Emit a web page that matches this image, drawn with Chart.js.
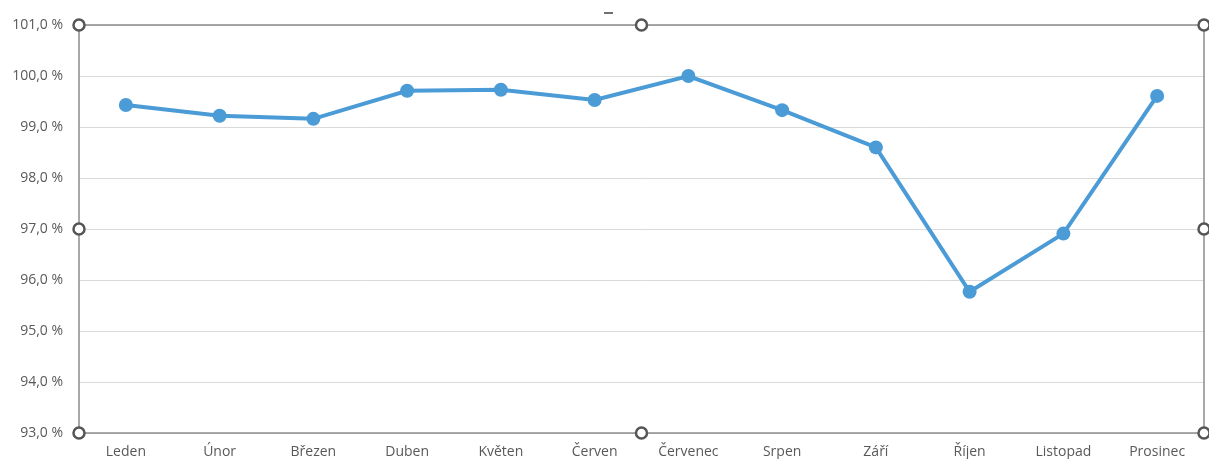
<!DOCTYPE html>
<html>
<head>
<meta charset="utf-8">
<script src="https://cdn.jsdelivr.net/npm/chart.js@4/dist/chart.umd.min.js"></script>
<style>
  html, body { margin: 0; padding: 0; background: #ffffff; }
  #wrap { width: 1209px; height: 459px; position: relative; }
</style>
</head>
<body>
<div id="wrap"><canvas id="c" width="1209" height="459"></canvas></div>
<script>
const categories = ['Leden', 'Únor', 'Březen', 'Duben', 'Květen', 'Červen', 'Červenec', 'Srpen', 'Září', 'Říjen', 'Listopad', 'Prosinec'];
const values = [99.43, 99.22, 99.16, 99.71, 99.73, 99.53, 100.0, 99.33, 98.6, 95.77, 96.91, 99.61];
const yMin = 93;
const yMax = 101;
const yStep = 1;

const lineColor = '#4a9bd6';
const textColor = '#595959';
const fontFamily = '"Open Sans", Roboto, sans-serif';

const framePlugin = {
  id: 'frame',
  afterDraw(chart) {
    const a = chart.chartArea;
    const ctx = chart.ctx;
    ctx.save();
    ctx.strokeStyle = '#8c8c8c';
    ctx.lineWidth = 1.5;
    ctx.strokeRect(a.left, a.top, a.right - a.left, a.bottom - a.top);
    // small dash above the frame
    ctx.strokeStyle = '#404040';
    ctx.lineWidth = 1.5;
    ctx.beginPath();
    ctx.moveTo(a.left + 525, 13);
    ctx.lineTo(a.left + 534, 13);
    ctx.stroke();
    // selection handles
    const mx = (a.left + a.right) / 2;
    const my = (a.top + a.bottom) / 2;
    const pts = [
      [a.left, a.top], [mx, a.top], [a.right, a.top],
      [a.left, my], [a.right, my],
      [a.left, a.bottom], [mx, a.bottom], [a.right, a.bottom]
    ];
    ctx.lineWidth = 2.5;
    ctx.strokeStyle = '#555555';
    ctx.fillStyle = '#ffffff';
    pts.forEach(([x, y]) => {
      ctx.beginPath();
      ctx.arc(x, y, 5.5, 0, Math.PI * 2);
      ctx.fill();
      ctx.stroke();
    });
    ctx.restore();
  }
};

new Chart(document.getElementById('c'), {
  type: 'line',
  data: {
    labels: categories,
    datasets: [{
      data: values,
      borderColor: lineColor,
      backgroundColor: lineColor,
      borderWidth: 4,
      pointRadius: 7,
      pointHoverRadius: 7,
      pointBackgroundColor: lineColor,
      pointBorderColor: lineColor,
      pointBorderWidth: 0,
      tension: 0,
      clip: false
    }]
  },
  options: {
    responsive: false,
    animation: false,
    devicePixelRatio: 1,
    layout: { autoPadding: false, padding: { top: 25, right: 5, bottom: 0, left: 0 } },
    plugins: {
      legend: { display: false },
      tooltip: { enabled: false },
      title: { display: false }
    },
    scales: {
      x: {
        offset: true,
        grid: { display: false, drawTicks: false },
        border: { display: false },
        ticks: {
          color: textColor,
          font: { family: fontFamily, size: 14 },
          padding: 11,
          maxRotation: 0,
          autoSkip: false
        },
        afterFit(scale) { scale.height = 26; }
      },
      y: {
        min: yMin,
        max: yMax,
        grid: { color: '#d9d9d9', lineWidth: 1, drawTicks: false },
        border: { display: false },
        ticks: {
          stepSize: yStep,
          color: textColor,
          font: { family: fontFamily, size: 14 },
          padding: 16,
          callback: (v) => v.toFixed(1).replace('.', ',') + ' %'
        },
        afterFit(scale) { scale.width = 79; }
      }
    }
  },
  plugins: [framePlugin]
});
</script>
</body>
</html>
